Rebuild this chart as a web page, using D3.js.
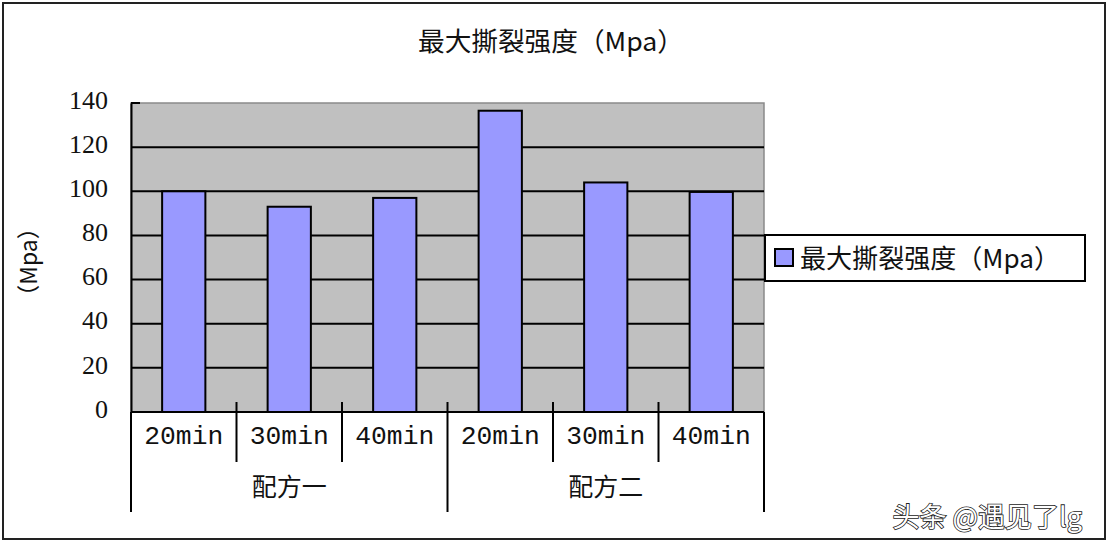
<!DOCTYPE html>
<html><head><meta charset="utf-8">
<script src="https://cdn.jsdelivr.net/npm/d3@7"></script>
<style>
html,body{margin:0;padding:0;background:#fff;}
svg{display:block;}
</style></head>
<body>
<script>
const groups = ["配方一", "配方二"];
const times = ["20min", "30min", "40min"];
const values = [100, 93, 97, 136.5, 104, 99.7];
const yTicks = [0, 20, 40, 60, 80, 100, 120, 140];
const seriesName = "最大撕裂强度（Mpa）";
const yTitle = "（Mpa）";
const watermark = "头条 @遇见了lg";

const W = 1108, H = 544;
const plot = {x0: 131, x1: 764, y0: 103, y1: 412};
const svg = d3.select("body").append("svg").attr("width", W).attr("height", H);
svg.append("rect").attr("width", W).attr("height", H).attr("fill", "#fff");
// outer frame
svg.append("rect").attr("x", 3).attr("y", 3).attr("width", W - 6).attr("height", H - 8)
  .attr("fill", "none").attr("stroke", "#222").attr("stroke-width", 2);

const cats = [];
groups.forEach(g => times.forEach(t => cats.push(g + "|" + t)));
const data = cats.map((c, i) => ({key: c, group: c.split("|")[0], time: c.split("|")[1], value: values[i]}));

const x = d3.scaleBand().domain(cats).range([plot.x0, plot.x1]).paddingInner(0.59).paddingOuter(0.295);
const y = d3.scaleLinear().domain([0, 140]).range([plot.y1, plot.y0]);

// plot background
svg.append("rect").attr("x", plot.x0).attr("y", plot.y0).attr("width", plot.x1 - plot.x0).attr("height", plot.y1 - plot.y0)
  .attr("fill", "#c0c0c0").attr("stroke", "#8a8a8a").attr("stroke-width", 1.5);

// gridlines
svg.append("g").selectAll("line").data(yTicks.filter(d => d > 0 && d < 140)).join("line")
  .attr("x1", plot.x0).attr("x2", plot.x1).attr("y1", d => y(d)).attr("y2", d => y(d))
  .attr("stroke", "#000").attr("stroke-width", 2);

// bars
svg.append("g").selectAll("rect").data(data).join("rect")
  .attr("x", d => x(d.key)).attr("width", x.bandwidth())
  .attr("y", d => y(d.value)).attr("height", d => y(0) - y(d.value))
  .attr("fill", "#9999ff").attr("stroke", "#000").attr("stroke-width", 2);

// y axis
const yAxis = svg.append("g").attr("transform", `translate(${plot.x0},0)`)
  .call(d3.axisLeft(y).tickValues(yTicks).tickSize(0).tickPadding(23));
yAxis.select(".domain").attr("stroke", "#000").attr("stroke-width", 2);
yAxis.selectAll("text").attr("font-family", "Liberation Serif, serif").attr("font-size", 26)
  .attr("fill", "#111").attr("dy", "0.2em");
// small tick at top
svg.append("line").attr("x1", plot.x0).attr("x2", plot.x0 + 9).attr("y1", plot.y0).attr("y2", plot.y0)
  .attr("stroke", "#000").attr("stroke-width", 2);

// x baseline
svg.append("line").attr("x1", plot.x0).attr("x2", plot.x1).attr("y1", plot.y1).attr("y2", plot.y1)
  .attr("stroke", "#000").attr("stroke-width", 2);

// category boundary ticks
const step = x.step();
const bounds = d3.range(cats.length + 1).map(i => plot.x0 + i * step);
svg.append("g").selectAll("line").data(bounds).join("line")
  .attr("x1", d => d).attr("x2", d => d)
  .attr("y1", (d, i) => (i === 0 || i === cats.length) ? plot.y1 : plot.y1 - 10)
  .attr("y2", (d, i) => (i % times.length === 0) ? 512 : 462)
  .attr("stroke", "#000").attr("stroke-width", 2);

// category labels
svg.append("g").selectAll("text").data(data).join("text")
  .attr("x", d => x(d.key) + x.bandwidth() / 2).attr("y", 444)
  .attr("text-anchor", "middle").attr("font-family", "Liberation Mono, monospace").attr("font-size", 26)
  .attr("textLength", 79).attr("lengthAdjust", "spacingAndGlyphs")
  .attr("fill", "#111").text(d => d.time);

// group labels
svg.append("g").selectAll("text").data(groups).join("text")
  .attr("x", (g, i) => plot.x0 + (i + 0.5) * step * times.length).attr("y", 496)
  .attr("text-anchor", "middle").attr("font-family", "Noto Sans CJK SC, sans-serif").attr("font-size", 25)
  .attr("fill", "#111").text(g => g);

// title
svg.append("text").attr("x", 551).attr("y", 51).attr("text-anchor", "middle")
  .attr("font-family", "Noto Sans CJK SC, sans-serif").attr("font-size", 26)
  .attr("textLength", 266).attr("lengthAdjust", "spacingAndGlyphs")
  .attr("fill", "#111").text(seriesName);

// y-axis title
svg.append("text").attr("transform", "translate(37,262) rotate(-90)").attr("text-anchor", "middle")
  .attr("font-family", "Noto Sans CJK SC, sans-serif").attr("font-size", 23).attr("fill", "#111").text(yTitle);

// legend
const lg = svg.append("g");
lg.append("rect").attr("x", 765).attr("y", 235).attr("width", 320).attr("height", 46)
  .attr("fill", "#fff").attr("stroke", "#000").attr("stroke-width", 2);
lg.append("rect").attr("x", 775).attr("y", 249).attr("width", 18).attr("height", 17)
  .attr("fill", "#9999ff").attr("stroke", "#000").attr("stroke-width", 2);
lg.append("text").attr("x", 800).attr("y", 268).attr("font-family", "Noto Sans CJK SC, sans-serif")
  .attr("font-size", 26).attr("textLength", 260).attr("lengthAdjust", "spacingAndGlyphs")
  .attr("fill", "#111").text(seriesName);

// watermark
svg.append("text").attr("x", 1082).attr("y", 527).attr("text-anchor", "end")
  .attr("font-family", "Noto Sans CJK SC, sans-serif").attr("font-size", 27).attr("fill", "#fff")
  .attr("stroke", "#222").attr("stroke-width", 1.6).attr("paint-order", "stroke").text(watermark);
</script>
</body></html>
